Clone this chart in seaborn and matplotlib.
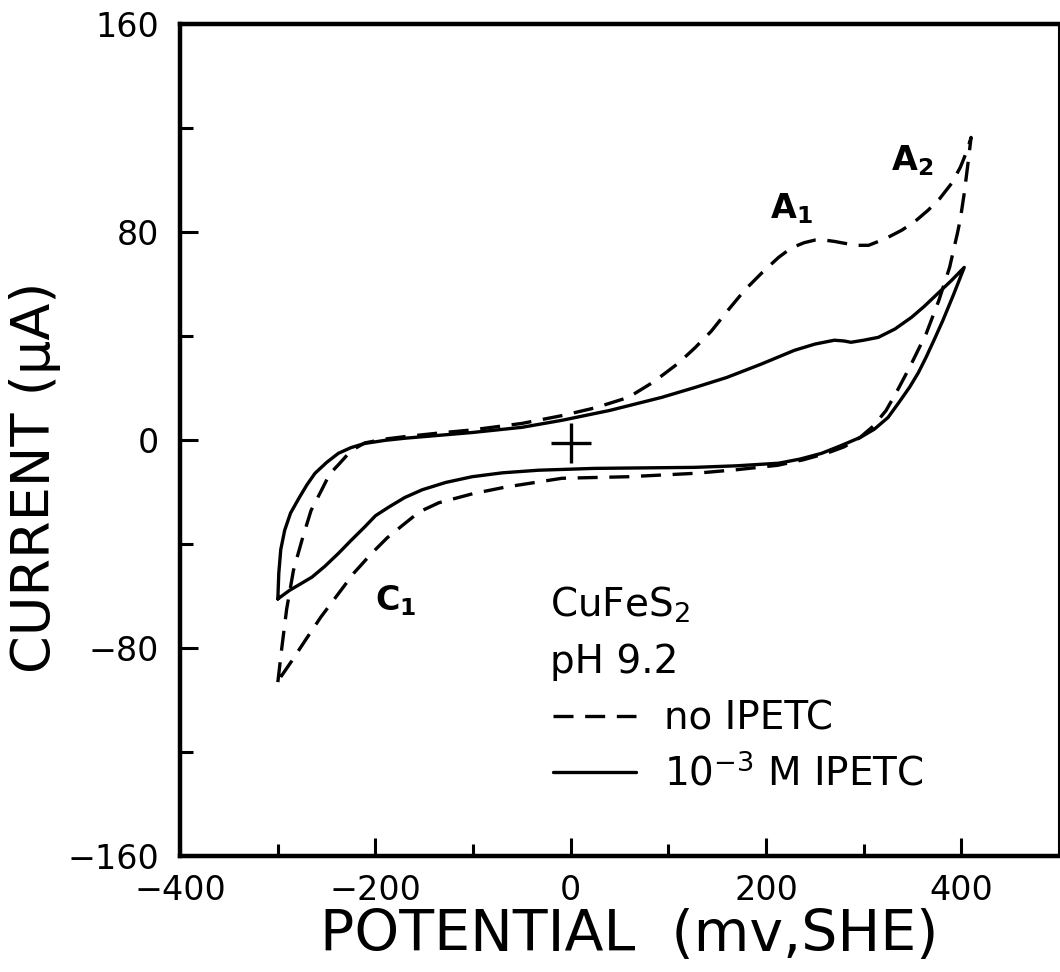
import numpy as np
import pandas as pd
import matplotlib
matplotlib.use("Agg")
import matplotlib.pyplot as plt
import seaborn as sns
from matplotlib.lines import Line2D

# ---- data (mV vs SHE, uA) ----
# no IPETC (dashed): anodic sweep then cathodic return
no_fwd_x = [-300, -296, -291, -284, -275, -266, -255, -247, -237, -225, -211, -190, -168, -135, -101, -50, -9, 25, 59, 85,
            110, 127, 144, 161, 178, 196, 213, 226, 239, 250, 260, 270, 280, 293, 305, 322, 339, 352, 366, 378,
            390, 399, 406, 410]
no_fwd_y = [-93, -80, -65, -50, -38, -27, -19, -13, -9, -4, -1, 0.5, 1.5, 2.8, 4, 6.5, 9.5, 12.5, 16.5, 22.5,
            29.6, 35.5, 42, 50, 57.7, 64.5, 70.4, 74, 76, 77, 77, 76.5, 75.8, 75, 75, 77.5, 80.8, 84, 88.5, 93,
            98.8, 105, 111.5, 116.5]
no_rev_x = [410, 407, 403, 399, 396, 388, 377, 364, 347, 335, 323, 310, 296, 280, 262, 238, 212, 170, 127, 59,
            -9, -67, -100, -135, -155, -170, -188, -204, -222, -238, -256, -272, -286, -297, -300]
no_rev_y = [116.5, 107, 95, 85, 79.6, 66.5, 53.8, 41, 28, 19.5, 11.5, 5.5, 1, -2.5, -5, -7.5, -9.6, -11.3, -12.7, -14,
            -14.6, -18, -20.5, -24, -27.5, -32, -37.5, -43.5, -51, -59, -68, -77, -85, -91, -93]

# 1e-3 M IPETC (solid)
ip_fwd_x = [-300, -299, -297, -293, -287, -278, -270, -262, -250, -238, -225, -211, -190, -170, -101, -50, -9, 40, 93,
            127, 160, 195, 229, 250, 270, 280, 287, 300, 315, 332, 349, 362, 376, 390, 403]
ip_fwd_y = [-61, -51, -42, -34.6, -28, -22, -17, -12.7, -8.5, -5, -2.8, -1.2, 0, 0.8, 3, 5, 7.7, 11.5, 16.5,
            20.3, 24.2, 29.3, 34.6, 37, 38.5, 38.2, 37.7, 38.5, 39.6, 42.8, 47.3, 51.5, 56.5, 61.5, 66.5]
ip_rev_x = [403, 392, 381, 372, 364, 356, 347, 336, 325, 311, 297, 277, 257, 235, 213, 170, 127, 24, -33,
            -70, -101, -128, -152, -170, -186, -200, -211, -225, -238, -252, -265, -278, -288, -300]
ip_rev_y = [66.5, 56, 46, 38.5, 32, 26, 20.4, 14.5, 8.8, 4.3, 1.2, -2, -5, -7.2, -8.8, -9.8, -10.4, -10.8, -11.5,
            -12.5, -14, -16.2, -19, -22, -25.6, -29, -33.3, -38.5, -43.5, -48.5, -52.6, -55.5, -57.7, -61]

peak_labels = [r"$\mathbf{A_1}$", r"$\mathbf{A_2}$", r"$\mathbf{C_1}$"]
peak_x = [204, 328, -200]
peak_y = [85.4, 103.8, -65.4]

x_ticks = [-400, -200, 0, 200, 400]
y_ticks = [-160, -80, 0, 80, 160]

no_df = pd.DataFrame({"E": no_fwd_x + no_rev_x, "I": no_fwd_y + no_rev_y})
ip_df = pd.DataFrame({"E": ip_fwd_x + ip_rev_x, "I": ip_fwd_y + ip_rev_y})

sns.set_style("ticks", {"axes.edgecolor": "black", "text.color": "black",
                        "xtick.color": "black", "ytick.color": "black",
                        "axes.labelcolor": "black"})
plt.rcParams["font.family"] = ["DejaVu Sans"]
plt.rcParams["mathtext.default"] = "regular"

fig = plt.figure(figsize=(10.6, 9.72), dpi=100)
ax = fig.add_axes([0.170, 0.119, 0.829, 0.856])

dash = (6, 3.5)
sns.lineplot(data=no_df, x="E", y="I", sort=False, estimator=None, ax=ax,
             color="black", lw=2.4)
ax.lines[-1].set_dashes(dash)
sns.lineplot(data=ip_df, x="E", y="I", sort=False, estimator=None, ax=ax,
             color="black", lw=2.4)
for ln in ax.lines:
    ln.set_solid_joinstyle("round")
    ln.set_dash_joinstyle("round")

# reference cross at origin
ax.plot([0], [-1], marker="+", ms=29, mew=2.4, color="black")

for lab, px, py in zip(peak_labels, peak_x, peak_y):
    ax.text(px, py, lab, fontsize=24, va="baseline", ha="left")

ax.text(-21, -68, "CuFeS$_2$", fontsize=28, va="baseline", ha="left")
ax.text(-21, -89.6, "pH 9.2", fontsize=28, va="baseline", ha="left")

handles = [Line2D([], [], color="black", lw=2.4, dashes=dash),
           Line2D([], [], color="black", lw=2.4)]
ax.legend(handles, ["no IPETC", "10$^{-3}$ M IPETC"], loc="upper left",
          bbox_to_anchor=(0.424, 0.188), frameon=False, fontsize=28,
          handlelength=2.15, handletextpad=0.72, labelspacing=0.4,
          borderpad=0, borderaxespad=0)

ax.set_xlim(-400, 500)
ax.set_ylim(-160, 160)
ax.set_xticks(x_ticks)
ax.set_yticks(y_ticks)
ax.set_xticks(np.arange(-300, 500, 200), minor=True)
ax.set_yticks(np.arange(-120, 160, 80), minor=True)
ax.tick_params(which="major", direction="in", length=13, width=2.2,
               labelsize=24, pad=13)
ax.tick_params(which="minor", direction="in", length=9, width=2.2)
ax.tick_params(axis="y", pad=15)

for s in ax.spines.values():
    s.set_linewidth(3.2)
ax.spines["right"].set_linewidth(1.5)

ax.set_xlabel("POTENTIAL  (mv,SHE)", fontsize=41)
ax.set_ylabel("CURRENT (μA)", fontsize=39)
ax.xaxis.set_label_coords(0.511, -0.062)
ax.yaxis.set_label_coords(-0.136, 0.455)

fig.savefig("out.png", dpi=100)
